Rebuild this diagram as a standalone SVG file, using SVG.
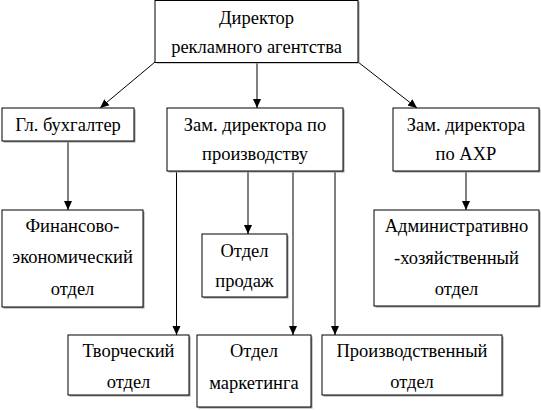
<svg xmlns="http://www.w3.org/2000/svg" width="541" height="410" viewBox="0 0 541 410">
<defs>
<style>
.box{fill:#fff;stroke:#000;stroke-width:1}
.sh{fill:#999;stroke:none}
.t{font-family:'Liberation Serif','Liberation Sans','Times New Roman',serif;font-size:18.5px;fill:#000;text-anchor:middle}
.c{stroke:#000;stroke-width:1;fill:none}
</style>
<marker id="ah" markerWidth="10" markerHeight="10" refX="9" refY="5" orient="auto" markerUnits="userSpaceOnUse">
<path d="M0,1 L9,5 L0,9 Z" fill="#000"/>
</marker>
</defs>
<rect width="541" height="410" fill="#fff"/>
<g id="connectors">
<line class="c" x1="257" y1="62" x2="257" y2="108" marker-end="url(#ah)"/>
<line class="c" x1="155" y1="62" x2="100" y2="108" marker-end="url(#ah)"/>
<line class="c" x1="358" y1="62" x2="417" y2="108" marker-end="url(#ah)"/>
<line class="c" x1="68" y1="141" x2="68" y2="210" marker-end="url(#ah)"/>
<line class="c" x1="466" y1="171" x2="466" y2="210" marker-end="url(#ah)"/>
<line class="c" x1="248" y1="171" x2="248" y2="234" marker-end="url(#ah)"/>
<line class="c" x1="176.5" y1="171" x2="176.5" y2="335" marker-end="url(#ah)"/>
<line class="c" x1="293" y1="171" x2="293" y2="335" marker-end="url(#ah)"/>
<line class="c" x1="335" y1="171" x2="335" y2="335" marker-end="url(#ah)"/>
</g>
<g id="director">
<rect class="sh" x="156.5" y="1.5" width="203" height="62"/>
<rect class="box" x="155" y="0.5" width="203" height="62"/>
<text class="t" x="256.5" y="24">Директор</text>
<text class="t" x="256.5" y="53">рекламного агентства</text>
</g>
<g id="glbuh">
<rect class="sh" x="3.5" y="109.5" width="132" height="33"/>
<rect class="box" x="2" y="108" width="132" height="33"/>
<text class="t" x="68" y="131">Гл. бухгалтер</text>
</g>
<g id="zamprod">
<rect class="sh" x="168.5" y="109.5" width="176" height="63"/>
<rect class="box" x="167" y="108" width="176" height="63"/>
<text class="t" x="255" y="131">Зам. директора по</text>
<text class="t" x="255" y="160">производству</text>
</g>
<g id="zamahr">
<rect class="sh" x="394.5" y="109.5" width="146" height="63"/>
<rect class="box" x="393" y="108" width="146" height="63"/>
<text class="t" x="466" y="131">Зам. директора</text>
<text class="t" x="466" y="160">по АХР</text>
</g>
<g id="finotdel">
<rect class="sh" x="3.5" y="211.5" width="141" height="97"/>
<rect class="box" x="2" y="210" width="141" height="97"/>
<text class="t" x="72.5" y="232">Финансово-</text>
<text class="t" x="72.5" y="263">экономический</text>
<text class="t" x="72.5" y="295">отдел</text>
</g>
<g id="prodazh">
<rect class="sh" x="203.5" y="235.5" width="85" height="63"/>
<rect class="box" x="202" y="234" width="85" height="63"/>
<text class="t" x="244.5" y="257">Отдел</text>
<text class="t" x="244.5" y="287">продаж</text>
</g>
<g id="ahotdel">
<rect class="sh" x="375.5" y="211.5" width="165" height="96"/>
<rect class="box" x="374" y="210" width="165" height="96"/>
<text class="t" x="456.5" y="232">Административно</text>
<text class="t" x="456.5" y="264">-хозяйственный</text>
<text class="t" x="456.5" y="295">отдел</text>
</g>
<g id="tvorch">
<rect class="sh" x="69.5" y="336.5" width="121" height="60"/>
<rect class="box" x="68" y="335" width="121" height="60"/>
<text class="t" x="128.5" y="357">Творческий</text>
<text class="t" x="128.5" y="388">отдел</text>
</g>
<g id="marketing">
<rect class="sh" x="198.5" y="336.5" width="114" height="72"/>
<rect class="box" x="197" y="335" width="114" height="72"/>
<text class="t" x="254" y="357">Отдел</text>
<text class="t" x="254" y="389">маркетинга</text>
</g>
<g id="proizv">
<rect class="sh" x="323.5" y="336.5" width="180" height="60"/>
<rect class="box" x="322" y="335" width="180" height="60"/>
<text class="t" x="412" y="357">Производственный</text>
<text class="t" x="412" y="388">отдел</text>
</g>
</svg>
